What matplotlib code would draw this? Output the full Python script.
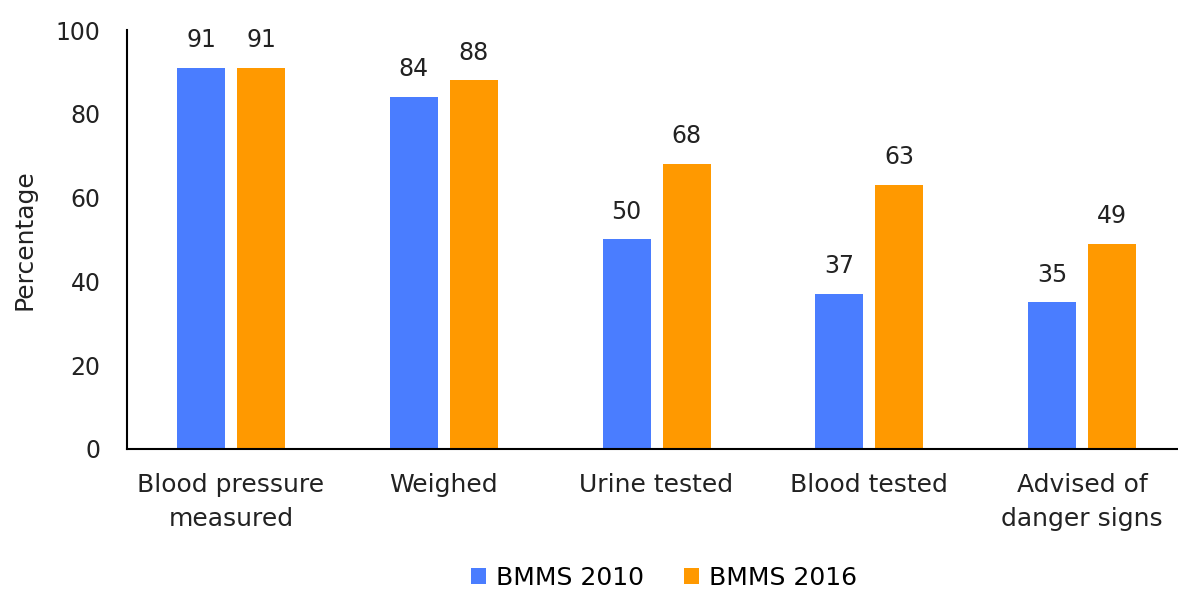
import matplotlib
matplotlib.use("Agg")
import matplotlib.pyplot as plt
import numpy as np

categories = ["Blood pressure\nmeasured", "Weighed", "Urine tested", "Blood tested", "Advised of\ndanger signs"]
bmms_2010 = [91, 84, 50, 37, 35]
bmms_2016 = [91, 88, 68, 63, 49]

blue = "#4A7DFF"
orange = "#FF9900"
txt = "#222222"

plt.rcParams['font.family'] = ['DejaVu Sans']

fig = plt.figure(figsize=(11.78, 5.92), dpi=100)
ax = fig.add_axes([127/1178, 143/592, 1051/1178, 419/592])

x = np.arange(len(categories))
w = 0.2256
off = 0.141
b1 = ax.bar(x - off, bmms_2010, w, color=blue, label="BMMS 2010")
b2 = ax.bar(x + off, bmms_2016, w, color=orange, label="BMMS 2016")

for bars in (b1, b2):
    for r in bars:
        ax.annotate("%d" % r.get_height(), (r.get_x() + r.get_width()/2, r.get_height()),
                    xytext=(0, 20), textcoords="offset points",
                    ha="center", va="center", fontsize=17, color=txt)

ax.set_xlim(-0.489, 4.451)
ax.set_ylim(0, 100)
ax.set_yticks(range(0, 101, 20))
ax.set_xticks(x)
ax.set_xticklabels(categories, fontsize=18, color=txt, linespacing=1.55)
ax.tick_params(axis="y", length=0, labelsize=17, labelcolor=txt, pad=19)
ax.tick_params(axis="x", length=0, pad=17)
ax.set_ylabel("Percentage", fontsize=18, color=txt, labelpad=14)

for s in ("top", "right"):
    ax.spines[s].set_visible(False)
ax.spines["left"].set_color("black")
ax.spines["bottom"].set_color("black")
ax.spines["left"].set_linewidth(1.5)
ax.spines["bottom"].set_linewidth(1.5)

leg = fig.legend(loc="center", ncol=2, frameon=False, fontsize=18, handlelength=0.6,
                 handleheight=0.6, handletextpad=0.4, columnspacing=1.6)
leg.set_bbox_to_anchor((664/1178, 1 - 578/592), transform=fig.transFigure)

fig.savefig("out.png", dpi=100)
